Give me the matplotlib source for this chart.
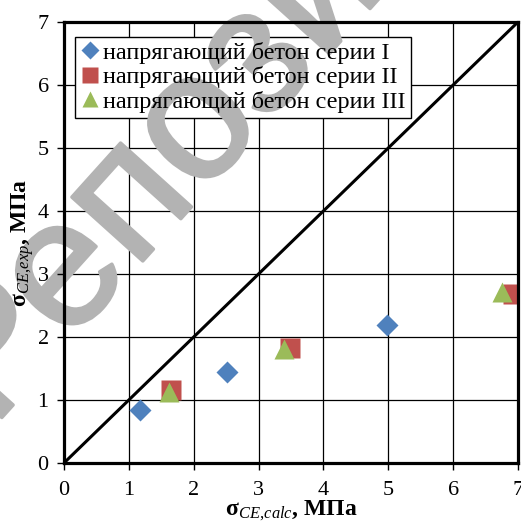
import matplotlib
matplotlib.use("Agg")
import matplotlib.pyplot as plt
import matplotlib.patheffects as pe
import numpy as np

# data
x_ser1 = [1.17, 2.51, 4.98]
y_ser1 = [0.84, 1.45, 2.19]
x_ser2 = [1.65, 3.48, 6.93]
y_ser2 = [1.16, 1.82, 2.68]
x_ser3 = [1.62, 3.40, 6.76]
y_ser3 = [1.13, 1.81, 2.71]
labels = ["напрягающий бетон серии I",
          "напрягающий бетон серии II",
          "напрягающий бетон серии III"]
ticks = [0, 1, 2, 3, 4, 5, 6, 7]

plt.rcParams['font.family'] = ['Liberation Serif', 'DejaVu Serif']
plt.rcParams['mathtext.fontset'] = 'custom'
plt.rcParams['mathtext.rm'] = 'Liberation Serif'
plt.rcParams['mathtext.it'] = 'Liberation Serif:italic'
plt.rcParams['mathtext.bf'] = 'Liberation Serif:bold'

fig = plt.figure(figsize=(5.21, 5.29), dpi=100)
ax = fig.add_axes([0.1228, 0.1248, 0.8714, 0.8336])
ax.set_xlim(0, 7)
ax.set_ylim(0, 7)
ax.set_axisbelow(False)  # ticks and labels above the watermark

# grid drawn by hand so it stays under the watermark
for t in ticks:
    ax.axhline(t, color='black', lw=0.9, zorder=0.6)
    ax.axvline(t, color='black', lw=0.9, zorder=0.6)

# watermark
wm = ax.text(-0.0155, 0.19, "Репозиторий", transform=fig.transFigure,
             fontsize=130, family='Liberation Sans', color='#b3b3b3',
             rotation=48, rotation_mode='anchor', ha='left', va='baseline',
             clip_on=False, zorder=2)
wm.set_path_effects([pe.withStroke(linewidth=2.5, foreground='#b3b3b3')])

ax.plot([0, 7], [0, 7], color='black', lw=2.2, zorder=3)
ax.plot(x_ser1, y_ser1, 'D', color='#4F81BD', ms=11.5, mec='none', zorder=4, label=labels[0])
ax.plot(x_ser2, y_ser2, 's', color='#C0504D', ms=14.5, mec='none', zorder=4, label=labels[1])
ax.plot(x_ser3, y_ser3, '^', color='#9BBB59', ms=14.5, mec='none', zorder=4, label=labels[2])

ax.set_xticks(ticks)
ax.set_yticks(ticks)
ax.tick_params(labelsize=16, length=5, width=1, direction='out')
ax.tick_params(axis='x', pad=8)
ax.tick_params(axis='y', pad=6)
for s in ax.spines.values():
    s.set_linewidth(2.3)
    s.set_zorder(5)

ax.set_xlabel(r'$\mathbf{σ}_{\mathit{CE,\!calc}}$, МПа', fontsize=17, fontweight='bold', labelpad=-1)
ax.set_ylabel(r'$\mathbf{σ}_{\mathit{CE,\!exp}}$, МПа', fontsize=17, fontweight='bold', labelpad=1)

legend_kw = dict(loc='upper left', bbox_to_anchor=(0.024, 0.966), borderaxespad=0,
                 fontsize=17.5, handlelength=0.85, handletextpad=0.12, labelspacing=0.1,
                 borderpad=0.2, markerscale=0.8, fancybox=False)
# white box under the watermark, text on top of it
leg1 = ax.legend(frameon=True, edgecolor='black', framealpha=1, **legend_kw)
leg1.get_frame().set_linewidth(1)
for t in leg1.get_texts():
    t.set_alpha(0)
for h in leg1.legend_handles:
    h.set_alpha(0)
leg1.set_zorder(1)
ax.add_artist(leg1)
leg2 = ax.legend(frameon=False, **legend_kw)
leg2.set_zorder(6)

ax.set_facecolor('white')
plt.savefig("out.png", dpi=100)
